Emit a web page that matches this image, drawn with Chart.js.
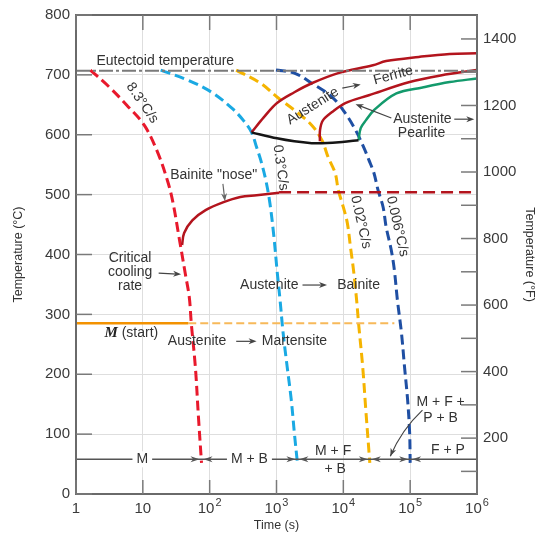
<!DOCTYPE html>
<html>
<head>
<meta charset="utf-8">
<script src="https://cdn.jsdelivr.net/npm/chart.js@4/dist/chart.umd.min.js"></script>
<style>
  html, body { margin: 0; padding: 0; background: #fff; }
  canvas { display: block; }
</style>
</head>
<body>
<canvas id="cct" width="541" height="541"></canvas>
<script>
// Axis ticks
const timeTicks = [1, 10, 100, 1000, 10000, 100000, 1000000];
const timeTickBase = ['1', '10', '10', '10', '10', '10', '10'];
const timeTickPower = ['', '', '2', '3', '4', '5', '6'];
const celsiusTicks = [0, 100, 200, 300, 400, 500, 600, 700, 800];
const fahrenheitTicks = [100, 200, 300, 400, 500, 600, 700, 800, 900, 1000, 1100, 1200, 1300, 1400];

// Cooling curves: time (s) and temperature (°C)
const rate83Time = [1.64, 3.19, 5.8, 10.5, 16.6, 23.7, 28.2, 34.8, 43, 49.5, 53.1, 61.1, 67.9, 75.5];
const rate83Temp = [708, 679, 649, 616, 571, 521, 487, 429, 369, 329, 285, 212, 129, 52];

const rate03Time = [18.5, 47.8, 107, 217, 319, 423, 504, 580, 692, 796, 916, 1018, 1130, 1256, 1446, 1664, 1850, 2056];
const rate03Temp = [708, 691, 671, 644, 624, 604, 579, 558, 524, 486, 429, 374, 324, 269, 212, 157, 102, 52];

const rate002Time = [249, 580, 1018, 1850, 3365, 4780, 5900, 7550, 8390, 10000, 11500, 12800, 14200, 15800, 16900, 19500, 21700, 24900];
const rate002Temp = [708, 686, 663, 641, 616, 591, 563, 536, 508, 479, 452, 412, 374, 324, 285, 212, 140, 52];

const rate0006Time = [982, 1850, 3365, 6790, 10700, 15200, 20200, 24100, 28700, 33000, 39400, 43700, 52200, 58000, 64400, 74100, 82400, 91600, 98200, 100000];
const rate0006Temp = [708, 703, 686, 663, 636, 608, 579, 558, 536, 508, 479, 446, 407, 374, 324, 269, 212, 157, 102, 52];

// Transformation boundaries
const noseTime = [423, 1018, 1850, 3365, 4780, 9660, 16900];
const noseTemp = [604, 594, 589, 586, 586, 588, 591];

const ferriteStartTime = [423, 644, 1018, 1850, 3365, 8390, 27700, 43700, 134600, 391000, 1000000];
const ferriteStartTemp = [604, 629, 653, 671, 686, 703, 716, 723, 730, 735, 736];

const pearliteStartTime = [4460, 4480, 4950, 6790, 10700, 24100, 98200, 286000, 1000000];
const pearliteStartTemp = [589, 608, 624, 638, 653, 666, 688, 699, 708];

const pearliteFinishTime = [16900, 18200, 21700, 28700, 62200, 153000, 391000, 1000000];
const pearliteFinishTemp = [591, 611, 624, 641, 669, 679, 688, 694];

const bainiteNoseTime = [38.7, 41.5, 55, 86.9, 158, 287, 504, 1092];
const bainiteNoseTemp = [416, 436, 457, 474, 487, 496, 499, 503];
const bainiteLimitTime = [1092, 1000000];
const bainiteLimitTemp = [504, 504];

const eutectoidTime = [1, 1000000];
const eutectoidTemp = [707, 707];

const msSolidTime = [1, 47.8];
const msDashedTime = [47.8, 58000];
const msTemp = [285, 285];

const productLineTime = [1, 1000000];
const productLineTemp = [58, 58];

const pts = (ts, vs) => ts.map((t, i) => ({ x: t, y: vs[i] }));

function curve(data, color, width, dash, tension) {
  return {
    data, borderColor: color, borderWidth: width, borderDash: dash || [],
    borderCapStyle: 'butt', tension: tension === undefined ? 0.35 : tension,
    pointRadius: 0, fill: false, yAxisID: 'y'
  };
}

const FONT = '"Liberation Sans", Arial, sans-serif';
const INK = '#333';

const overlay = {
  id: 'overlay',
  beforeDraw(chart) {
    const c = chart.ctx;
    c.save();
    c.fillStyle = '#fff';
    c.fillRect(0, 0, chart.width, chart.height);
    c.restore();
  },
  afterDatasetsDraw(chart) {
    const { ctx: c, chartArea: a, scales } = chart;
    const xs = scales.x, ys = scales.y, yf = scales.y2;
    const X = lt => xs.getPixelForValue(Math.pow(10, lt));
    const XT = t => xs.getPixelForValue(t);
    const Y = T => ys.getPixelForValue(T);

    c.save();
    // frame
    c.strokeStyle = '#6a6a6a';
    c.lineWidth = 2;
    c.strokeRect(a.left, a.top, a.right - a.left, a.bottom - a.top);

    // inner tick marks
    c.strokeStyle = '#7a7a7a';
    c.lineWidth = 1.5;
    const seg = (x1, y1, x2, y2) => { c.beginPath(); c.moveTo(x1, y1); c.lineTo(x2, y2); c.stroke(); };
    celsiusTicks.forEach(v => { const p = ys.getPixelForValue(v); seg(a.left, p, a.left + 16, p); });
    fahrenheitTicks.forEach(v => { const p = yf.getPixelForValue(v); seg(a.right - 16, p, a.right, p); });
    timeTicks.forEach(v => {
      const p = xs.getPixelForValue(v);
      seg(p, a.top, p, a.top + 15);
      seg(p, a.bottom - 14, p, a.bottom);
    });

    // time tick labels with raised powers of ten
    c.fillStyle = '#3a3a3a';
    c.textBaseline = 'middle';
    c.textAlign = 'left';
    timeTicks.forEach((v, i) => {
      const p = xs.getPixelForValue(v);
      c.font = '15px ' + FONT;
      const wb = c.measureText(timeTickBase[i]).width;
      c.font = '11px ' + FONT;
      const we = timeTickPower[i] ? c.measureText(timeTickPower[i]).width + 1 : 0;
      const x0 = p - (wb + we) / 2;
      c.font = '15px ' + FONT;
      c.fillText(timeTickBase[i], x0, a.bottom + 15);
      if (timeTickPower[i]) {
        c.font = '11px ' + FONT;
        c.fillText(timeTickPower[i], x0 + wb + 1, a.bottom + 9);
      }
    });

    // helpers
    function text(str, x, y, opt) {
      opt = opt || {};
      c.save();
      c.translate(x, y);
      if (opt.rot) c.rotate(opt.rot * Math.PI / 180);
      c.font = opt.font || ('14px ' + FONT);
      c.textAlign = opt.align || 'center';
      c.textBaseline = 'middle';
      if (opt.bg) {
        const w = c.measureText(str).width;
        const x0 = c.textAlign === 'center' ? -w / 2 : (c.textAlign === 'right' ? -w : 0);
        c.fillStyle = '#fff';
        c.fillRect(x0 - 4, -8, w + 8, 16);
      }
      c.fillStyle = opt.color || INK;
      c.fillText(str, 0, 0);
      c.restore();
    }
    function head(tx, ty, ang, len, hw, color) {
      c.save();
      c.translate(tx, ty);
      c.rotate(ang);
      c.fillStyle = color || '#444';
      c.beginPath();
      c.moveTo(0, 0);
      c.lineTo(-len, -hw);
      c.lineTo(-len * 0.7, 0);
      c.lineTo(-len, hw);
      c.closePath();
      c.fill();
      c.restore();
    }
    function arrow(x1, y1, x2, y2, color) {
      c.strokeStyle = color || '#444';
      c.lineWidth = 1.2;
      const ang = Math.atan2(y2 - y1, x2 - x1);
      seg(x1, y1, x2 - 4 * Math.cos(ang), y2 - 4 * Math.sin(ang));
      head(x2, y2, ang, 8, 3, color);
    }

    // eutectoid label
    text('Eutectoid temperature', X(0.305), Y(723), { align: 'left' });

    // cooling rate labels
    text('8.3°C/s', X(0.992), Y(653), { rot: 55 });
    text('0.3°C/s', X(3.06), Y(545), { rot: 82 });
    text('0.02°C/s', X(4.26), Y(454), { rot: 77 });
    text('0.006°C/s', X(4.809), Y(447), { rot: 77 });

    // Austenite -> Ferrite
    text('Austenite', X(3.542), Y(648), { rot: -32 });
    arrow(X(3.985), Y(678), X(4.26), Y(684));
    text('Ferrite', X(4.748), Y(699), { rot: -15 });

    // Austenite -> Pearlite
    text('Austenite', X(5.184), Y(626));
    arrow(X(5.66), Y(626), X(5.959), Y(626));
    text('Pearlite', X(5.17), Y(603));
    arrow(X(4.718), Y(628), X(4.183), Y(651));

    // bainite nose
    text('Bainite "nose"', X(2.061), Y(533));
    arrow(X(2.198), Y(518), X(2.229), Y(489), '#666');

    // critical cooling rate
    text('Critical', X(0.809), Y(394));
    text('cooling', X(0.809), Y(371));
    text('rate', X(0.809), Y(347));
    arrow(X(1.237), Y(369), X(1.573), Y(367));

    // Austenite -> Bainite
    text('Austenite', X(3.328), Y(349), { align: 'right' });
    arrow(X(3.389), Y(349), X(3.756), Y(349));
    text('Bainite', X(3.908), Y(349), { align: 'left' });

    // M (start) and Austenite -> Martensite
    c.save();
    c.font = 'italic bold 15px "Liberation Serif", "Times New Roman", serif';
    const mx = X(0.427), my = Y(269);
    c.fillStyle = '#222';
    c.textBaseline = 'middle';
    c.textAlign = 'left';
    c.fillText('M', mx, my);
    const mw = c.measureText('M ').width;
    c.restore();
    text('(start)', mx + mw, Y(269), { align: 'left' });
    text('Austenite', X(1.374), Y(255), { align: 'left' });
    arrow(X(2.397), Y(255), X(2.702), Y(255));
    text('Martensite', X(2.779), Y(255), { align: 'left' });

    // product line arrowheads at the end of each cooling curve
    const ends = [rate83Time, rate03Time, rate002Time, rate0006Time].map(a => a[a.length - 1]);
    const ly = Y(productLineTemp[0]);
    ends.forEach(t => {
      const px = XT(t);
      head(px - 2, ly, 0, 9, 3, '#555');
      head(px + 2, ly, Math.PI, 9, 3, '#555');
    });

    // product labels
    text('M', X(0.992), ly, { bg: true });
    text('M + B', X(2.595), ly, { bg: true });
    text('M + F', X(3.847), Y(71));
    text('+ B', X(3.878), Y(41));
    text('F + P', X(5.565), Y(73));
    text('M + F +', X(5.456), Y(154));
    text('P + B', X(5.456), Y(127));

    // leader to the narrow M + F + P + B band
    c.strokeStyle = '#444';
    c.lineWidth = 1.2;
    const sx = X(5.184), sy = Y(140), qx = X(4.87), qy = Y(107), ex = X(4.703), ey = Y(63);
    c.beginPath();
    c.moveTo(sx, sy);
    c.quadraticCurveTo(qx, qy, ex, ey);
    c.stroke();
    head(ex, ey, Math.atan2(ey - qy, ex - qx), 8, 3, '#444');

    c.restore();
  }
};

const tickFont = { family: FONT, size: 15 };
const titleFont = { family: FONT, size: 12.5 };

new Chart(document.getElementById('cct'), {
  type: 'line',
  data: {
    datasets: [
      curve(pts(eutectoidTime, eutectoidTemp), '#7a7a7a', 2, [14, 3, 3, 3], 0),
      curve(pts(productLineTime, productLineTemp), '#555', 1.5, [], 0),
      curve(pts(msSolidTime, msTemp), '#f39200', 2.5, [], 0),
      curve(pts(msDashedTime, msTemp), '#f7b95a', 2, [8, 4], 0),
      curve(pts(bainiteNoseTime, bainiteNoseTemp), '#b3141d', 2.5, []),
      curve(pts(bainiteLimitTime, bainiteLimitTemp), '#b3141d', 2.5, [12, 6], 0),
      curve(pts(noseTime, noseTemp), '#151515', 2.5, []),
      curve(pts(ferriteStartTime, ferriteStartTemp), '#b3141d', 2.5, []),
      curve(pts(pearliteStartTime, pearliteStartTemp), '#b3141d', 2.5, []),
      curve(pts(pearliteFinishTime, pearliteFinishTemp), '#139a6c', 2.5, []),
      curve(pts(rate83Time, rate83Temp), '#e8192c', 3, [10, 5]),
      curve(pts(rate03Time, rate03Temp), '#1aa9e3', 3, [10, 5]),
      curve(pts(rate002Time, rate002Temp), '#f5b400', 3, [10, 5]),
      curve(pts(rate0006Time, rate0006Temp), '#1f4fa3', 3, [10, 5])
    ]
  },
  options: {
    responsive: false,
    animation: false,
    layout: { padding: { top: 15 } },
    plugins: { legend: { display: false }, tooltip: { enabled: false } },
    scales: {
      x: {
        type: 'logarithmic', min: 1, max: 1000000,
        afterBuildTicks: s => { s.ticks = timeTicks.map(v => ({ value: v })); },
        afterFit: s => { s.height = 47; },
        border: { display: false },
        grid: { color: '#dedede', lineWidth: 1, drawTicks: false },
        ticks: { display: false },
        title: { display: true, text: 'Time (s)', color: '#333', font: titleFont, padding: { top: 0, bottom: 8 } }
      },
      y: {
        type: 'linear', min: 0, max: 800, position: 'left',
        afterBuildTicks: s => { s.ticks = celsiusTicks.map(v => ({ value: v })); },
        afterFit: s => { s.width = 76; },
        border: { display: false },
        grid: { color: '#dedede', lineWidth: 1, drawTicks: false },
        ticks: { padding: 6, color: '#3a3a3a', font: tickFont },
        title: { display: true, text: 'Temperature (°C)', color: '#333', font: titleFont, padding: { top: 11, bottom: 0 } }
      },
      y2: {
        type: 'linear', min: 32, max: 1472, position: 'right',
        afterBuildTicks: s => { s.ticks = fahrenheitTicks.map(v => ({ value: v })); },
        afterFit: s => { s.width = 64; },
        border: { display: false },
        grid: { display: false, drawTicks: false },
        ticks: {
          padding: 6, color: '#3a3a3a', font: tickFont,
          callback: v => (v % 200 === 0 ? String(v) : '')
        },
        title: { display: true, text: 'Temperature (°F)', color: '#333', font: titleFont, padding: { top: 4, bottom: 0 } }
      }
    }
  },
  plugins: [overlay]
});
</script>
</body>
</html>
